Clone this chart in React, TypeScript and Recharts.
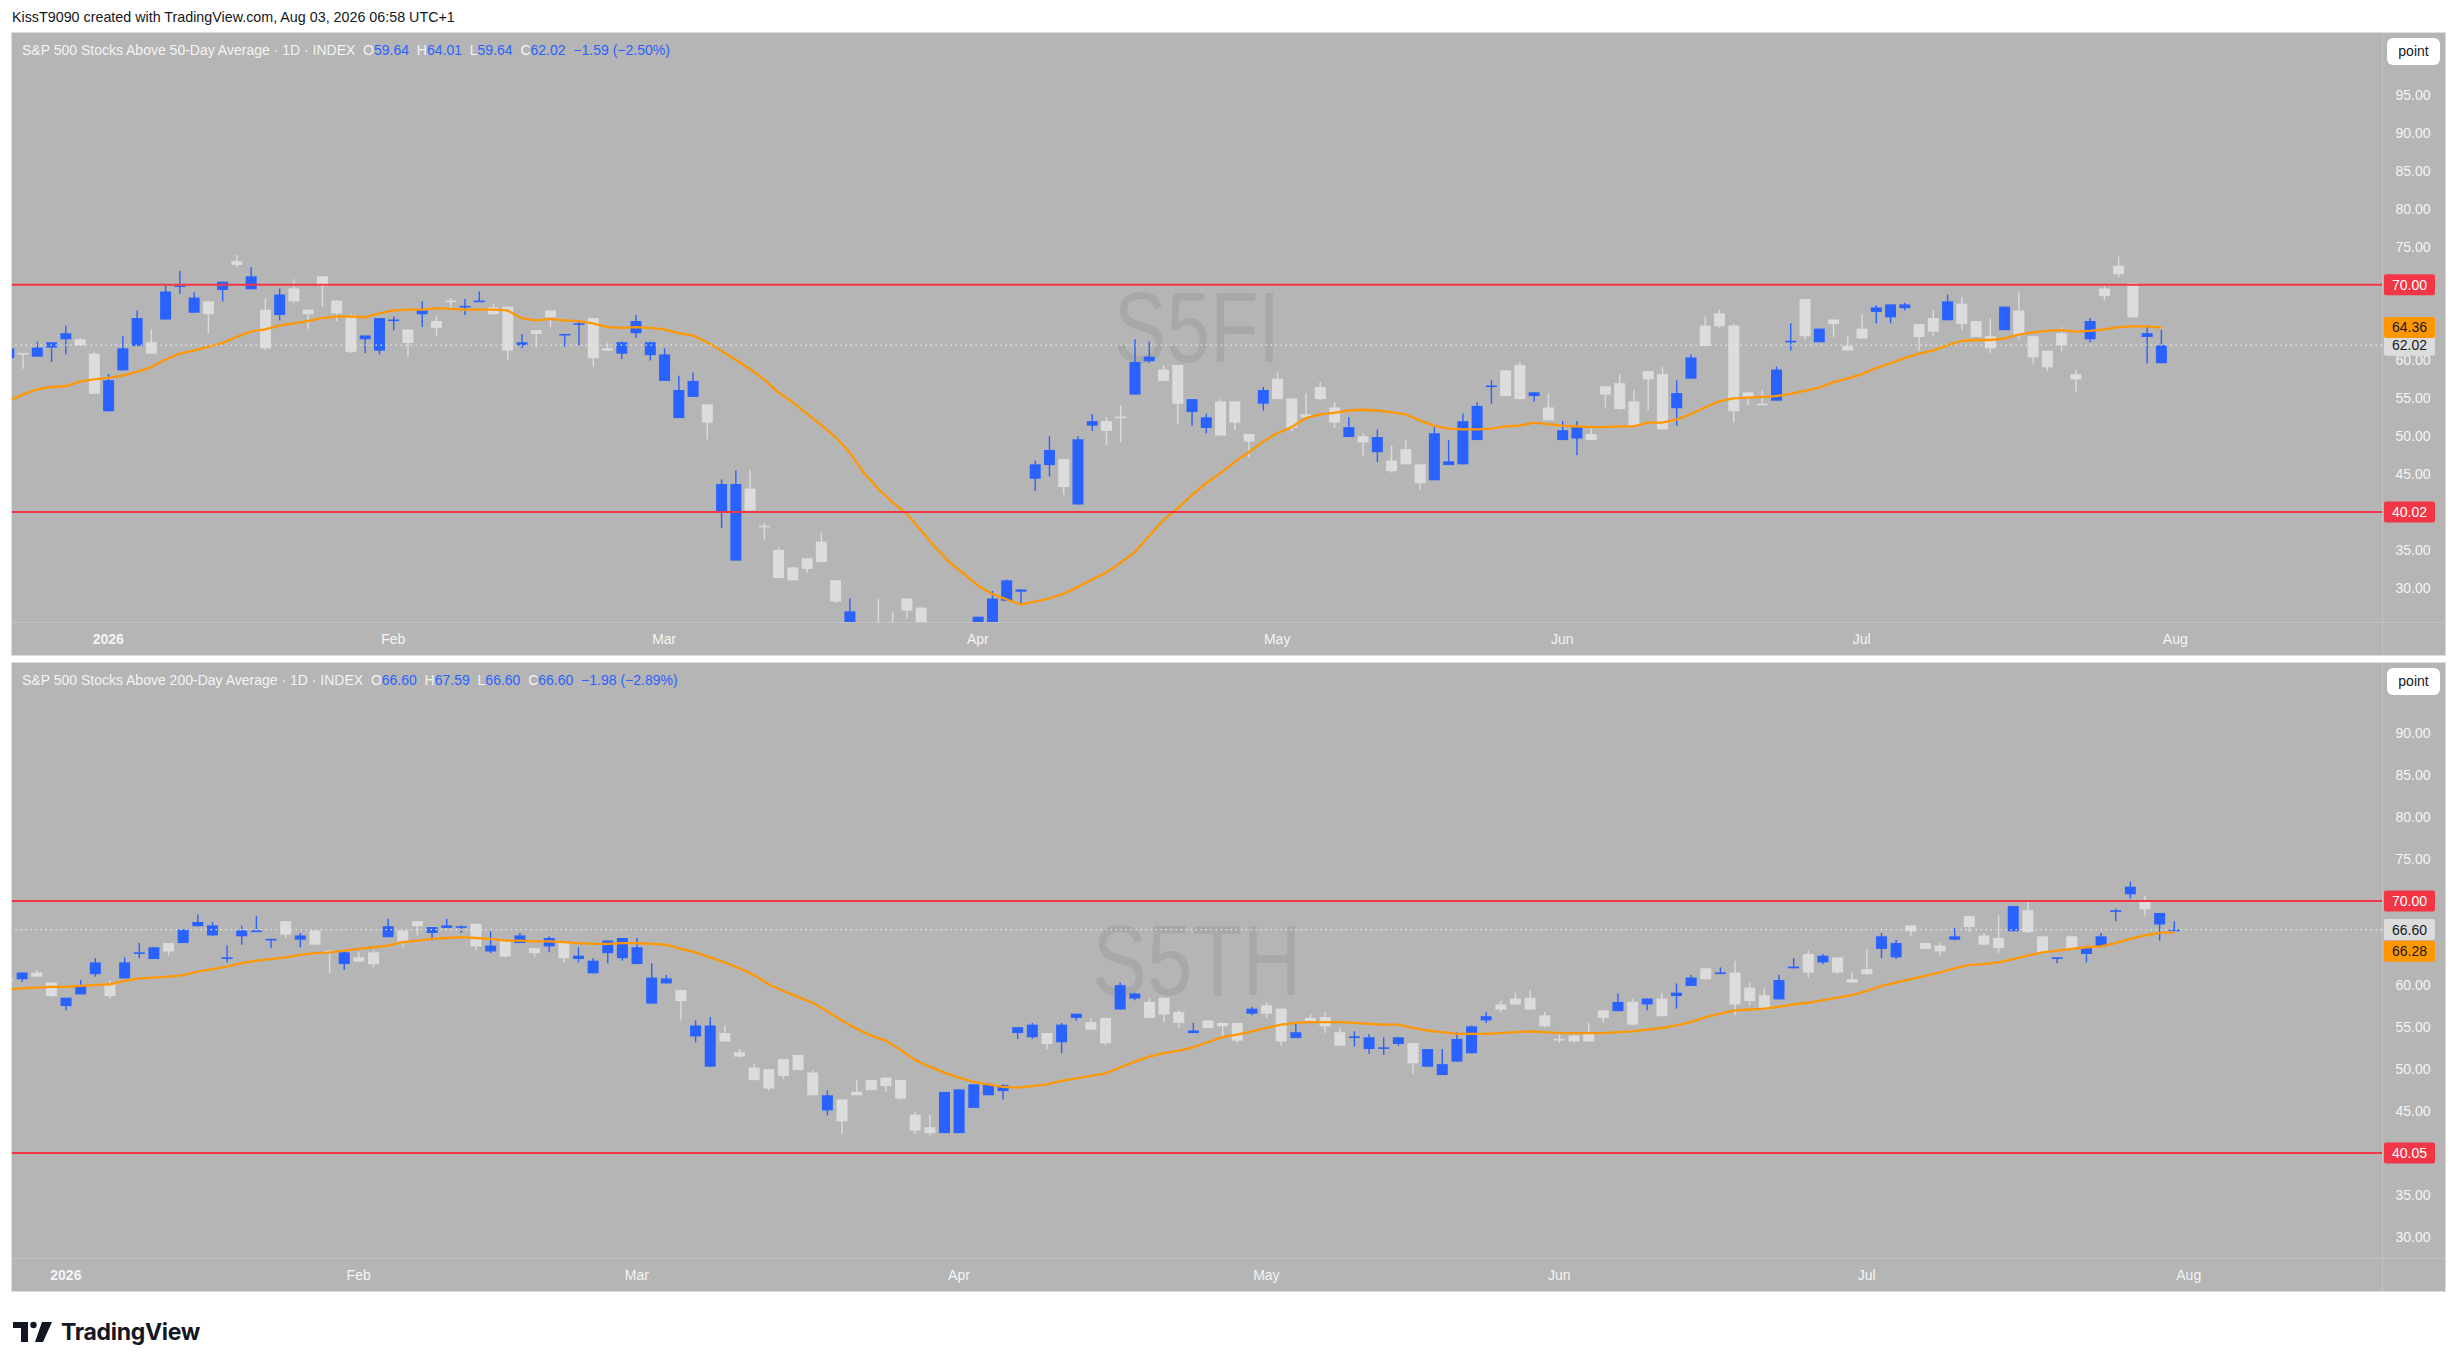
import React from 'react';
import { ComposedChart, Bar, Line, XAxis, YAxis, ReferenceLine } from 'recharts';

// time axis: bar index 0 = Dec 22 2025, one slot per trading day
const TICK_IDX = [7, 27, 46, 68, 89, 109, 130, 152];
const TICK_LABELS = ['2026', 'Feb', 'Mar', 'Apr', 'May', 'Jun', 'Jul', 'Aug'];

// S5FI – S&P 500 stocks above 50-day average
const S5FI_START = 0;
const s5fiOpen = [
  60.3, 61.0, 60.5, 61.7, 62.8, 62.8, 60.9, 53.3, 58.7, 61.9,
  62.4, 65.4, 69.7, 66.3, 67.8, 69.3, 73.1, 69.4, 66.7, 66.0,
  69.5, 66.7, 71.1, 67.9, 66.0, 62.8, 61.3, 65.3, 64.1, 66.1,
  65.2, 67.9, 67.0, 67.85, 67.0, 67.1, 62.0, 64.0, 66.6, 63.45,
  64.7, 65.6, 61.6, 60.9, 63.6, 60.7, 57.3, 52.4, 55.2, 54.2,
  40.0, 33.6, 43.1, 38.2, 35.0, 32.7, 33.9, 36.1, 31.0, 24.0,
  24.5, 25.0, 25.2, 28.6, 27.4, 24.0, 23.5, 23.0, 24.5, 25.0,
  28.3, 29.5, 44.4, 46.2, 47.0, 41.0, 51.4, 52.0, 52.6, 55.5,
  59.9, 58.8, 59.4, 53.2, 51.1, 54.6, 54.6, 50.3, 54.3, 57.6,
  55.0, 52.9, 56.5, 53.8, 49.9, 50.0, 47.9, 46.8, 48.3, 46.3,
  44.2, 46.2, 46.3, 49.5, 56.6, 58.7, 59.4, 55.3, 53.8, 49.5,
  49.7, 50.3, 56.6, 57.0, 54.6, 58.6, 58.2, 53.7, 57.6, 64.6,
  66.2, 64.6, 55.8, 54.3, 54.7, 62.55, 68.1, 62.4, 65.4, 61.9,
  64.2, 66.4, 65.7, 66.9, 64.8, 65.6, 65.3, 67.5, 65.2, 63.2,
  64.0, 66.6, 63.2, 61.3, 63.6, 58.2, 62.8, 69.5, 72.5, 70.2,
  63.1, 59.64,
];
const s5fiHigh = [
  61.6, 61.0, 62.5, 62.4, 64.6, 63.0, 61.2, 58.2, 63.2, 66.6,
  64.1, 69.9, 71.8, 69.0, 67.8, 70.4, 73.9, 72.3, 68.2, 69.5,
  70.7, 66.7, 71.1, 67.9, 66.2, 63.3, 65.6, 65.8, 64.1, 67.8,
  65.8, 68.2, 68.1, 69.1, 67.5, 67.1, 63.5, 64.0, 66.6, 63.5,
  65.2, 65.6, 62.3, 62.5, 66.0, 62.5, 61.6, 58.0, 58.4, 54.2,
  44.3, 45.5, 45.6, 38.6, 35.3, 32.7, 33.9, 37.3, 31.0, 28.6,
  25.0, 28.6, 26.8, 28.6, 27.4, 25.0, 24.5, 24.8, 26.2, 29.6,
  31.1, 29.8, 46.8, 50.0, 47.0, 50.0, 52.9, 52.5, 54.1, 62.8,
  62.5, 59.4, 59.4, 54.9, 53.0, 54.9, 54.6, 50.3, 56.5, 58.4,
  55.0, 55.7, 57.2, 54.5, 52.5, 50.4, 50.9, 48.8, 49.5, 46.3,
  51.2, 49.5, 53.0, 54.5, 57.4, 58.7, 59.8, 55.8, 55.7, 52.0,
  52.0, 51.1, 56.6, 58.2, 56.1, 58.6, 59.2, 57.4, 60.8, 65.8,
  66.7, 64.8, 55.8, 56.1, 59.2, 64.9, 68.1, 64.2, 65.4, 63.3,
  66.1, 67.3, 67.4, 67.6, 64.8, 66.7, 68.7, 68.3, 65.2, 65.6,
  67.1, 69.1, 63.2, 61.3, 64.4, 58.8, 65.6, 69.9, 73.7, 70.2,
  64.4, 64.01,
];
const s5fiLow = [
  60.3, 58.9, 60.5, 59.8, 60.8, 62.0, 55.6, 53.3, 58.7, 61.9,
  60.9, 65.4, 68.8, 66.3, 63.6, 67.8, 72.3, 69.4, 61.3, 65.3,
  67.6, 64.2, 67.1, 65.2, 61.0, 61.0, 60.8, 64.0, 60.5, 64.4,
  63.2, 66.8, 66.0, 67.85, 66.1, 60.0, 61.6, 61.7, 64.4, 61.8,
  62.0, 59.2, 61.3, 60.2, 63.0, 60.0, 57.3, 52.4, 55.2, 49.6,
  37.9, 33.6, 40.2, 36.3, 31.3, 31.0, 32.0, 33.4, 28.0, 23.5,
  21.0, 22.0, 23.0, 26.0, 24.5, 22.0, 21.5, 21.8, 24.0, 24.5,
  28.3, 27.9, 42.8, 44.7, 42.3, 41.0, 50.7, 48.8, 49.2, 55.5,
  59.7, 57.3, 51.6, 51.4, 50.4, 50.1, 50.8, 47.2, 53.4, 54.9,
  50.7, 52.5, 54.7, 51.1, 49.9, 47.4, 46.6, 45.2, 46.3, 42.9,
  44.2, 46.2, 46.3, 49.5, 54.3, 55.3, 54.9, 54.6, 52.1, 49.5,
  47.5, 49.5, 53.8, 53.5, 51.4, 53.4, 50.9, 51.4, 57.6, 61.9,
  64.3, 51.8, 54.1, 54.1, 54.7, 61.3, 62.7, 62.4, 63.1, 61.3,
  62.9, 64.9, 64.9, 66.6, 61.3, 63.3, 65.3, 64.0, 63.1, 60.9,
  64.0, 62.8, 59.6, 58.6, 61.2, 55.8, 62.4, 67.9, 71.0, 65.7,
  59.6, 59.64,
];
const s5fiClose = [
  61.6, 60.8, 61.7, 62.4, 63.6, 62.0, 55.6, 57.4, 61.6, 65.6,
  60.9, 69.1, 69.9, 68.3, 66.1, 70.4, 72.6, 71.1, 61.6, 68.7,
  67.8, 66.1, 69.8, 66.2, 61.1, 63.3, 65.6, 65.4, 62.3, 66.6,
  64.3, 67.8, 67.2, 67.9, 66.1, 61.3, 62.4, 63.5, 65.7, 63.5,
  64.9, 60.3, 61.3, 62.4, 65.2, 62.4, 60.8, 56.1, 57.3, 51.8,
  43.7, 43.7, 40.2, 38.1, 31.3, 31.0, 32.5, 33.4, 28.2, 26.9,
  22.0, 23.0, 23.5, 27.0, 25.0, 23.0, 22.5, 24.0, 26.2, 28.6,
  31.0, 29.8, 46.3, 48.2, 43.3, 49.6, 52.0, 50.7, 52.4, 59.8,
  60.5, 57.3, 54.3, 54.9, 52.5, 50.1, 51.8, 49.3, 56.1, 54.9,
  51.1, 52.5, 54.9, 51.8, 51.2, 49.2, 49.9, 45.4, 46.3, 43.8,
  50.4, 46.7, 52.0, 54.0, 56.7, 55.3, 54.9, 55.8, 52.1, 50.8,
  51.2, 49.5, 55.5, 53.6, 51.4, 57.5, 50.9, 55.7, 60.4, 61.9,
  64.5, 53.3, 55.2, 54.1, 58.8, 62.6, 63.2, 64.2, 64.8, 61.3,
  62.9, 67.0, 67.4, 67.4, 63.1, 63.8, 67.8, 64.8, 63.1, 61.6,
  67.1, 63.4, 60.4, 59.1, 62.0, 57.5, 65.2, 68.5, 71.4, 65.7,
  63.61, 62.02,
];
const s5fiMa = [
  54.7, 55.5, 56.2, 56.5, 56.6, 57.2, 57.5, 57.7, 58.0, 58.5,
  59.1, 60.1, 60.9, 61.3, 61.8, 62.3, 63.1, 63.8, 64.1, 64.6,
  64.9, 65.2, 65.6, 65.8, 65.8, 65.7, 66.2, 66.6, 66.7, 66.7,
  66.9, 66.8, 66.7, 66.7, 66.7, 66.6, 65.6, 65.3, 65.5, 65.3,
  65.2, 64.9, 64.4, 64.3, 64.4, 64.3, 64.1, 63.6, 63.3, 62.4,
  61.3, 60.1, 58.9, 57.5, 55.8, 54.5, 53.0, 51.5, 49.9, 47.9,
  45.2, 43.1, 41.3, 39.8, 37.6, 35.4, 33.4, 31.9, 30.3, 29.2,
  28.5, 27.8, 28.2, 28.6, 29.2, 30.1, 31.1, 32.0, 33.3, 34.7,
  36.8, 38.9, 40.5, 42.2, 43.8, 45.1, 46.6, 47.9, 49.3, 50.4,
  51.2, 52.4, 52.9, 53.1, 53.4, 53.5, 53.4, 53.2, 52.9, 52.1,
  51.4, 51.0, 50.9, 50.9, 51.0, 51.3, 51.4, 51.8, 51.6, 51.4,
  51.3, 51.2, 51.2, 51.3, 51.3, 51.8, 51.8, 52.2, 52.9, 53.8,
  54.6, 55.0, 55.1, 55.2, 55.3, 55.6, 56.0, 56.4, 57.1, 57.6,
  58.2, 59.0, 59.6, 60.3, 60.9, 61.3, 62.0, 62.6, 62.7, 62.7,
  62.9, 63.4, 63.7, 63.9, 64.0, 63.8, 63.9, 64.1, 64.4, 64.5,
  64.5, 64.36,
];
const S5FI_LEVELS = [70, 40.02];
const S5FI_TICKS = [30, 35, 45, 50, 55, 60, 75, 80, 85, 90, 95];

// S5TH – S&P 500 stocks above 200-day average (first visible bar = index 3)
const S5TH_START = 3;
const s5thOpen = [
  60.8, 60.7, 61.5, 60.3, 57.5, 58.9, 61.3, 60.2, 60.8, 63.85,
  63.1, 65.0, 65.0, 67.0, 65.9, 63.25, 65.8, 66.3, 65.45, 67.6,
  65.4, 66.5, 64.1, 62.5, 63.3, 63.9, 65.7, 66.5, 67.6, 66.2,
  66.8, 66.95, 67.3, 64.0, 65.3, 65.0, 64.4, 64.6, 65.1, 63.1,
  61.4, 63.8, 63.2, 62.5, 57.8, 60.2, 59.4, 53.9, 50.3, 54.3,
  52.0, 50.2, 50.0, 51.2, 51.7, 49.6, 45.1, 46.4, 47.3, 48.7,
  49.0, 48.7, 44.6, 43.1, 42.4, 42.4, 45.4, 46.9, 47.4, 54.3,
  53.8, 54.3, 53.2, 56.1, 55.6, 56.1, 57.1, 58.4, 58.0, 58.5,
  56.8, 54.3, 55.8, 55.5, 55.5, 56.6, 57.6, 57.2, 53.7, 56.1,
  56.2, 54.4, 53.85, 52.4, 52.55, 53.0, 53.1, 50.3, 49.3, 50.9,
  51.9, 55.8, 57.7, 58.4, 58.5, 56.4, 53.6, 54.0, 54.4, 57.0,
  56.9, 58.0, 57.7, 58.4, 58.7, 59.9, 62.0, 61.4, 61.5, 59.7,
  58.8, 58.3, 62.0, 63.7, 62.7, 63.3, 60.7, 61.9, 64.3, 63.3,
  67.1, 65.0, 64.7, 65.4, 68.2, 65.9, 65.6, 66.4, 68.9, 65.8,
  63.25, 65.8, 63.7, 64.6, 68.85, 70.8, 70.1, 67.2, 66.6,
];
const s5thHigh = [
  60.8, 61.5, 61.8, 60.3, 58.5, 60.6, 63.2, 60.6, 63.3, 65.0,
  64.5, 65.0, 66.6, 68.4, 67.5, 64.7, 67.1, 68.2, 65.5, 67.6,
  66.2, 66.5, 64.1, 64.1, 63.9, 64.1, 67.9, 66.5, 67.6, 66.9,
  67.9, 67.1, 67.3, 66.4, 65.3, 66.2, 64.4, 65.8, 65.1, 64.5,
  63.2, 65.3, 65.6, 65.6, 62.6, 61.2, 59.4, 55.8, 56.2, 55.2,
  52.4, 50.6, 50.0, 51.2, 51.7, 49.9, 47.5, 46.4, 48.7, 48.7,
  49.0, 48.7, 44.9, 44.6, 47.3, 47.6, 48.2, 48.4, 48.2, 55.0,
  55.5, 54.3, 55.5, 56.6, 56.1, 56.1, 60.3, 59.1, 58.4, 58.5,
  57.0, 55.5, 55.8, 55.5, 55.5, 57.4, 58.0, 57.2, 55.5, 56.6,
  56.8, 55.0, 54.5, 54.2, 53.8, 53.8, 53.1, 52.4, 52.4, 54.4,
  55.2, 56.8, 58.1, 59.1, 59.4, 56.8, 54.3, 54.3, 55.5, 57.0,
  59.0, 58.4, 58.4, 59.1, 60.2, 61.2, 62.1, 62.1, 62.9, 60.3,
  59.7, 61.2, 63.2, 64.1, 63.7, 63.3, 61.6, 64.3, 66.2, 65.4,
  67.1, 65.1, 65.0, 66.8, 68.2, 66.2, 68.3, 69.4, 70.0, 65.8,
  63.3, 65.9, 64.4, 66.2, 69.1, 72.3, 70.6, 68.58, 67.59,
];
const s5thLow = [
  60.3, 60.4, 61.0, 58.6, 57.0, 58.9, 61.0, 58.4, 60.8, 63.2,
  63.1, 63.5, 65.0, 67.0, 65.9, 62.7, 64.8, 66.3, 64.4, 65.6,
  64.5, 64.8, 61.4, 61.8, 62.8, 62.1, 65.7, 64.5, 65.9, 65.3,
  66.8, 66.2, 64.1, 63.8, 63.3, 65.0, 63.3, 63.9, 62.7, 62.7,
  61.4, 62.6, 62.9, 62.5, 57.8, 60.2, 55.8, 53.2, 50.3, 53.3,
  51.4, 48.7, 47.5, 48.8, 49.9, 46.9, 44.5, 42.3, 46.9, 47.5,
  47.3, 46.4, 42.3, 42.1, 42.4, 42.4, 45.4, 46.9, 46.4, 53.6,
  53.6, 52.4, 51.9, 55.8, 54.7, 52.8, 57.1, 58.2, 56.1, 55.6,
  54.9, 54.3, 54.9, 53.8, 53.2, 56.4, 56.1, 52.8, 53.7, 55.5,
  54.3, 52.8, 52.7, 51.8, 51.7, 52.8, 49.4, 50.3, 49.3, 50.9,
  51.9, 55.5, 56.8, 57.7, 57.1, 55.0, 53.1, 53.1, 53.3, 55.5,
  56.9, 55.2, 57.0, 56.3, 57.2, 59.9, 60.6, 61.4, 56.4, 57.6,
  57.1, 58.3, 62.0, 60.9, 62.5, 61.3, 60.3, 61.3, 63.2, 63.1,
  65.8, 64.3, 63.5, 65.3, 66.3, 64.7, 63.8, 66.4, 66.2, 63.8,
  62.6, 64.2, 62.7, 64.6, 67.6, 70.3, 68.2, 65.3, 66.6,
];
const s5thClose = [
  60.3, 61.5, 61.0, 58.7, 58.5, 60.0, 62.7, 58.7, 62.7, 63.9,
  64.5, 64.0, 66.6, 67.5, 67.1, 63.3, 66.5, 66.5, 65.5, 66.0,
  65.9, 64.8, 63.8, 63.9, 62.8, 62.5, 67.0, 65.2, 67.0, 66.9,
  67.1, 67.0, 64.6, 64.7, 63.4, 65.9, 63.8, 65.6, 63.2, 63.5,
  62.9, 65.3, 65.6, 64.5, 60.9, 60.8, 58.1, 55.2, 55.2, 53.3,
  51.5, 48.7, 47.7, 49.2, 49.9, 46.9, 46.9, 43.8, 46.9, 47.5,
  48.0, 46.5, 42.7, 42.4, 47.3, 47.6, 48.2, 48.2, 48.1, 55.0,
  55.3, 53.0, 55.3, 56.6, 54.7, 53.1, 60.0, 59.0, 56.1, 56.5,
  55.5, 54.6, 54.9, 55.1, 53.4, 57.2, 56.6, 53.3, 54.4, 55.7,
  55.1, 52.8, 53.9, 53.8, 52.6, 53.8, 50.7, 52.4, 50.6, 53.6,
  55.1, 56.3, 57.1, 57.7, 57.1, 55.1, 53.45, 53.3, 53.3, 56.1,
  58.0, 55.3, 58.4, 56.3, 59.1, 60.9, 60.7, 61.5, 57.7, 58.1,
  57.1, 60.6, 62.2, 61.5, 63.5, 61.5, 60.3, 61.3, 65.8, 65.0,
  66.4, 64.3, 64.0, 65.8, 66.9, 64.8, 64.4, 69.4, 66.3, 63.8,
  63.3, 64.3, 64.4, 65.8, 68.9, 71.7, 69.0, 68.58, 66.6,
];
const s5thMa = [
  59.5, 59.6, 59.7, 59.8, 59.8, 59.9, 60.0, 60.1, 60.5, 60.8,
  60.9, 61.0, 61.2, 61.6, 61.9, 62.2, 62.6, 62.9, 63.1, 63.3,
  63.6, 63.8, 63.9, 64.1, 64.3, 64.5, 64.7, 65.1, 65.3, 65.5,
  65.6, 65.7, 65.6, 65.5, 65.3, 65.3, 65.2, 65.2, 65.1, 65.0,
  64.9, 64.9, 65.0, 65.0, 64.9, 64.8, 64.3, 63.9, 63.3, 62.7,
  62.0, 61.2, 60.1, 59.3, 58.6, 57.9, 56.9, 55.8, 54.8, 54.0,
  53.4, 52.3, 51.1, 50.3, 49.6, 49.0, 48.5, 48.2, 47.9, 47.8,
  48.0, 48.2, 48.6, 48.9, 49.2, 49.5, 50.2, 50.9, 51.5, 51.9,
  52.2, 52.6, 53.2, 53.8, 54.1, 54.5, 54.9, 55.3, 55.5, 55.6,
  55.6, 55.6, 55.5, 55.4, 55.3, 55.3, 54.9, 54.6, 54.4, 54.2,
  54.2, 54.2, 54.3, 54.4, 54.5, 54.4, 54.3, 54.3, 54.3, 54.3,
  54.4, 54.5, 54.7, 54.9, 55.2, 55.6, 56.2, 56.6, 57.0, 57.1,
  57.2, 57.4, 57.7, 57.9, 58.2, 58.5, 58.8, 59.3, 59.9, 60.3,
  60.7, 61.1, 61.5, 62.0, 62.4, 62.5, 62.7, 63.1, 63.5, 63.9,
  64.1, 64.3, 64.5, 64.6, 65.0, 65.5, 65.9, 66.2, 66.28,
];
const S5TH_LEVELS = [70, 40.05];
const S5TH_TICKS = [30, 35, 45, 50, 55, 60, 75, 80, 85, 90];

const FONT = "'Liberation Sans', Arial, Helvetica, sans-serif";
const PANE_BG = '#b5b5b5';
const BLUE = '#2962ff';
const GREY = '#dcdcdc';
const ORANGE = '#ff9800';
const RED = '#f23645';
const AXIS_TEXT = '#f4f4f4';
const SEP = '#c3c3c3';

const PANE_LEFT = 12;
const PANE_WIDTH = 2433;
const AXIS_W = 63;
const TIME_H = 33;

type Row = { i: number; o: number; h: number; l: number; c: number; ma: number; range: [number, number] };

function buildRows(start: number, open: number[], high: number[], low: number[], close: number[], ma: number[]): Row[] {
  return open.map((o, k) => ({
    i: start + k,
    o,
    h: high[k],
    l: low[k],
    c: close[k],
    ma: ma[k],
    range: [low[k], high[k]] as [number, number],
  }));
}

const s5fiRows = buildRows(S5FI_START, s5fiOpen, s5fiHigh, s5fiLow, s5fiClose, s5fiMa);
const s5thRows = buildRows(S5TH_START, s5thOpen, s5thHigh, s5thLow, s5thClose, s5thMa);

// candle body + wick, drawn inside the bar that spans low..high
function Candle(props: any) {
  const { x, y, width, height, payload } = props;
  if (x == null || y == null || !payload) return null;
  const { o, h, l, c } = payload;
  const span = h - l;
  const py = (v: number) => (span > 0 ? y + ((h - v) / span) * height : y);
  const color = c >= o ? BLUE : GREY;
  const cx = x + width / 2;
  const top = py(Math.max(o, c));
  const bot = py(Math.min(o, c));
  return (
    <g>
      <line x1={cx} x2={cx} y1={y} y2={y + height} stroke={color} strokeWidth={1.4} />
      <rect x={x} y={top} width={width} height={Math.max(bot - top, 1.6)} fill={color} />
    </g>
  );
}

type Tag = { bg: string; fg: string; dy: number };

function makePriceTick(tags: Record<string, Tag>) {
  return function PriceTick(props: any) {
    const { x, y, payload } = props;
    const label = Number(payload.value).toFixed(2);
    const tag = tags[label];
    if (tag) {
      const cy = y + tag.dy;
      return (
        <g>
          <rect x={x + 2} y={cy - 10.5} width={51} height={21} rx={2} fill={tag.bg} />
          <text x={x + 27.5} y={cy + 5} textAnchor="middle" fontSize={14} fill={tag.fg} fontFamily={FONT}>
            {label}
          </text>
        </g>
      );
    }
    return (
      <text x={x + 31} y={y + 5} textAnchor="middle" fontSize={14} fill={AXIS_TEXT} fontFamily={FONT}>
        {label}
      </text>
    );
  };
}

function TimeTick(props: any) {
  const { x, y, payload } = props;
  const label = TICK_LABELS[TICK_IDX.indexOf(payload.value)];
  return (
    <text
      x={x}
      y={y + 22}
      textAnchor="middle"
      fontSize={14}
      fontWeight={label === '2026' ? 700 : 400}
      fill={AXIS_TEXT}
      fontFamily={FONT}
    >
      {label}
    </text>
  );
}

const fmt = (v: number) => v.toFixed(2);
const signed = (v: number) => (v < 0 ? '\u2212' : '+') + Math.abs(v).toFixed(2);

interface PaneProps {
  top: number;
  height: number;
  rows: Row[];
  xDomain: [number, number];
  yDomain: [number, number];
  yTicks: number[];
  levels: number[];
  title: string;
  watermark: string;
  wmLength: number;
  maTagDy: number;
}

function Pane({ top, height, rows, xDomain, yDomain, yTicks, levels, title, watermark, wmLength, maTagDy }: PaneProps) {
  const plotW = PANE_WIDTH - AXIS_W;
  const plotH = height - TIME_H;
  const last = rows[rows.length - 1];
  const prev = rows[rows.length - 2];
  const chg = last.c - prev.c;
  const pct = (chg / prev.c) * 100;

  const tags: Record<string, Tag> = {};
  levels.forEach((v) => (tags[fmt(v)] = { bg: RED, fg: '#ffffff', dy: 0 }));
  tags[fmt(last.c)] = { bg: GREY, fg: '#131722', dy: 0 };
  tags[fmt(last.ma)] = { bg: ORANGE, fg: '#131722', dy: maTagDy };
  const allTicks = [...yTicks, ...levels, last.c, last.ma];

  const val = { color: BLUE };
  return (
    <div
      style={{
        position: 'absolute',
        left: PANE_LEFT,
        top,
        width: PANE_WIDTH,
        height,
        background: PANE_BG,
        overflow: 'hidden',
        boxShadow: '0 0 0 1px #dcdcdc',
      }}
    >
      <svg width={plotW} height={plotH} style={{ position: 'absolute', left: 0, top: 0 }}>
        <text
          x={plotW / 2}
          y={plotH / 2 + 34}
          textAnchor="middle"
          fontSize={100}
          textLength={wmLength}
          lengthAdjust="spacingAndGlyphs"
          fill="#a8a8a8"
          fontFamily={FONT}
        >
          {watermark}
        </text>
      </svg>
      <div style={{ position: 'absolute', left: 0, top: 0 }}>
        <ComposedChart width={PANE_WIDTH} height={height} data={rows} margin={{ top: 0, right: 0, bottom: 0, left: 0 }}>
          <XAxis
            dataKey="i"
            type="number"
            domain={xDomain}
            allowDataOverflow
            ticks={TICK_IDX}
            interval={0}
            height={TIME_H}
            tickSize={0}
            tickMargin={0}
            axisLine={false}
            tickLine={false}
            tick={<TimeTick />}
          />
          <YAxis
            orientation="right"
            type="number"
            domain={yDomain}
            allowDataOverflow
            ticks={allTicks}
            interval={0}
            width={AXIS_W}
            tickSize={0}
            tickMargin={0}
            axisLine={false}
            tickLine={false}
            tick={makePriceTick(tags)}
          />
          <Bar dataKey="range" barSize={11} isAnimationActive={false} shape={(p: any) => <Candle {...p} />} />
          <Line
            type="linear"
            dataKey="ma"
            stroke={ORANGE}
            strokeWidth={2.3}
            dot={false}
            activeDot={false}
            isAnimationActive={false}
          />
          {levels.map((v) => (
            <ReferenceLine key={v} y={v} stroke={RED} strokeWidth={2} />
          ))}
          <ReferenceLine y={last.c} stroke="#ececec" strokeWidth={1.2} strokeDasharray="1.5 3.5" />
        </ComposedChart>
      </div>
      <div style={{ position: 'absolute', left: 0, top: plotH, width: PANE_WIDTH, height: 1, background: SEP }} />
      <div style={{ position: 'absolute', left: plotW, top: 0, width: 1, height, background: SEP }} />
      <div
        style={{
          position: 'absolute',
          left: 10,
          top: 9,
          fontFamily: FONT,
          fontSize: 14,
          lineHeight: '16px',
          color: '#f4f4f4',
          whiteSpace: 'pre',
        }}
      >
        {title + ' \u00b7 1D \u00b7 INDEX  O'}
        <span style={val}>{fmt(last.o)}</span>
        {'  H'}
        <span style={val}>{fmt(last.h)}</span>
        {'  L'}
        <span style={val}>{fmt(last.l)}</span>
        {'  C'}
        <span style={val}>{fmt(last.c)}</span>
        <span style={val}>{'  ' + signed(chg) + ' (' + signed(pct) + '%)'}</span>
      </div>
      <div
        style={{
          position: 'absolute',
          left: 2375,
          top: 5,
          width: 53,
          height: 27,
          borderRadius: 6,
          background: '#ffffff',
          fontFamily: FONT,
          fontSize: 14,
          lineHeight: '27px',
          textAlign: 'center',
          color: '#131722',
        }}
      >
        point
      </div>
    </div>
  );
}

function Logo() {
  return (
    <div style={{ position: 'absolute', left: 13, top: 1318, display: 'flex', alignItems: 'center' }}>
      <svg width={42} height={22} viewBox="0 0 42 22">
        <rect x={0} y={1} width={15} height={6} fill="#131722" />
        <rect x={8} y={1} width={7} height={20} fill="#131722" />
        <circle cx={20.5} cy={4} r={3.2} fill="#131722" />
        <polygon points="29,1 39,1 30,21 22,21" fill="#131722" />
      </svg>
      <span
        style={{
          marginLeft: 6,
          fontFamily: "Inter, 'Liberation Sans', Arial, sans-serif",
          fontWeight: 700,
          fontSize: 23,
          color: '#131722',
          letterSpacing: -0.3,
        }}
      >
        TradingView
      </span>
    </div>
  );
}

export default function App() {
  return (
    <div
      style={{
        position: 'absolute',
        left: 0,
        top: 0,
        width: 2457,
        height: 1365,
        background: '#ffffff',
        overflow: 'hidden',
      }}
    >
      <div
        style={{
          position: 'absolute',
          left: 12,
          top: 9,
          fontFamily: FONT,
          fontSize: 14.3,
          lineHeight: '16px',
          color: '#131722',
          whiteSpace: 'pre',
        }}
      >
        KissT9090 created with TradingView.com, Aug 03, 2026 06:58 UTC+1
      </div>
      <Pane
        top={33}
        height={622}
        rows={s5fiRows}
        xDomain={[0.25, 166.5]}
        yDomain={[25.5, 103.2]}
        yTicks={S5FI_TICKS}
        levels={S5FI_LEVELS}
        title="S&P 500 Stocks Above 50-Day Average"
        watermark="S5FI"
        wmLength={166}
        maTagDy={0}
      />
      <Pane
        top={663}
        height={628}
        rows={s5thRows}
        xDomain={[3.32, 165.2]}
        yDomain={[27.55, 98.3]}
        yTicks={S5TH_TICKS}
        levels={S5TH_LEVELS}
        title="S&P 500 Stocks Above 200-Day Average"
        watermark="S5TH"
        wmLength={209}
        maTagDy={19}
      />
      <Logo />
    </div>
  );
}
